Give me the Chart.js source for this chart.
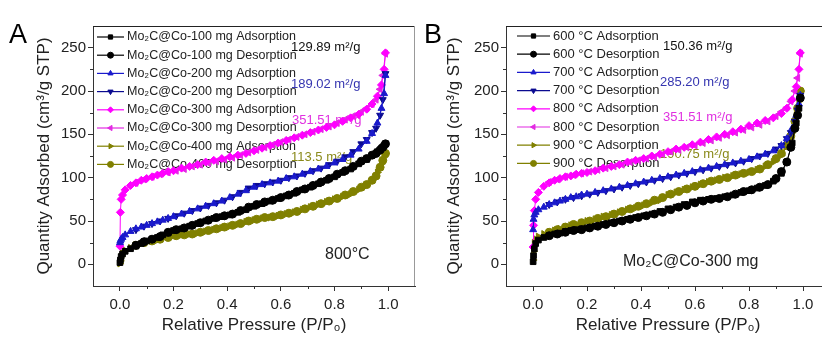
<!DOCTYPE html>
<html>
<head>
<meta charset="utf-8">
<script src="https://cdn.jsdelivr.net/npm/chart.js@4.4.1/dist/chart.umd.min.js"></script>
<style>
  body { margin: 0; background: #fff; width: 822px; height: 340px; overflow: hidden; position: relative; }
  #chartA { position: absolute; left: 0; top: 0; }
  #chartB { position: absolute; left: 410px; top: 0; }
</style>
</head>
<body>
<canvas id="chartA" width="420" height="340"></canvas>
<canvas id="chartB" width="425" height="340"></canvas>
<script>
// relative pressures, shared by both panels
const pAds = [0.0005, 0.002, 0.005, 0.01, 0.02, 0.04, 0.06, 0.08, 0.1, 0.12, 0.14, 0.16, 0.18, 0.2,
  0.23, 0.26, 0.29, 0.32, 0.35, 0.38, 0.41, 0.44, 0.47, 0.5, 0.53, 0.56, 0.59, 0.62, 0.65, 0.68,
  0.71, 0.74, 0.77, 0.8, 0.83, 0.86, 0.89, 0.92, 0.94, 0.96, 0.975, 0.985, 0.99];
const pDes = [0.99, 0.98, 0.97, 0.955, 0.94, 0.92, 0.9, 0.87, 0.84, 0.81, 0.78, 0.75, 0.72, 0.69,
  0.66, 0.63, 0.6, 0.57, 0.54, 0.51, 0.48, 0.45, 0.42, 0.39, 0.36, 0.33, 0.3, 0.27, 0.24, 0.21,
  0.18, 0.15, 0.12, 0.09, 0.06];

const xTicks = [0, 0.2, 0.4, 0.6, 0.8, 1.0];
const yTicks = [0, 50, 100, 150, 200, 250];

// panel A: precursor amount series
const labelsA = ["Mo₂C@Co-100 mg Adsorption", "Mo₂C@Co-100 mg Desorption",
  "Mo₂C@Co-200 mg Adsorption", "Mo₂C@Co-200 mg Desorption",
  "Mo₂C@Co-300 mg Adsorption", "Mo₂C@Co-300 mg Desorption",
  "Mo₂C@Co-400 mg Adsorption", "Mo₂C@Co-400 mg Desorption"];
const a100Ads = [2, 5, 9, 12, 15, 18, 21, 24, 27, 29, 31, 34, 36, 39, 41, 44, 47, 50, 53, 55, 57, 60, 63, 67,
  70, 73, 76, 79, 82, 86, 89, 93, 97, 101, 106, 110, 116, 121, 126, 130, 134, 137, 139];
const a100Des = [139, 135, 132, 128, 126, 122, 119, 113, 108, 104, 99, 95, 91, 87, 84, 80, 77, 74, 72, 69,
  66, 62, 58, 56, 54, 51, 48, 45, 42, 40, 37, 32, 29, 26, 22];
const a200Ads = [25, 27, 29, 31, 34, 38, 41, 43, 45, 47, 49, 51, 53, 55, 58, 61, 64, 67, 70, 73, 77, 81, 85, 89,
  92, 94, 96, 99, 101, 104, 107, 110, 113, 117, 121, 126, 133, 142, 151, 163, 180, 197, 218];
const a200Des = [220, 190, 172, 157, 152, 144, 139, 130, 124, 119, 115, 111, 108, 105, 102, 100, 97, 95, 93, 91,
  88, 83, 78, 74, 71, 68, 65, 62, 59, 56, 53, 50, 47, 44, 40];
const a300Ads = [21, 60, 75, 80, 86, 91, 94, 97, 99, 101, 103, 105, 107, 108, 111, 113, 115, 118, 120, 122, 124,
  126, 128, 131, 134, 137, 140, 143, 146, 149, 152, 155, 158, 161, 165, 169, 173, 179, 185, 194, 207, 225, 244];
const a300Des = [243, 218, 202, 190, 185, 180, 176, 171, 167, 163, 159, 156, 153, 150, 147, 144, 141, 138, 135, 132,
  129, 126, 123, 121, 119, 117, 115, 113, 110, 108, 106, 104, 101, 98, 94];
const a400Ads = [1, 4, 9, 13, 16, 19, 22, 24, 26, 27, 28, 30, 31, 33, 34, 35, 36, 38, 40, 42, 44, 46, 49, 51,
  53, 54, 56, 58, 60, 63, 66, 69, 72, 75, 78, 81, 86, 91, 97, 106, 116, 124, 128];
const a400Des = [128, 120, 112, 102, 97, 92, 89, 84, 80, 76, 73, 70, 67, 64, 61, 59, 57, 55, 54, 52,
  50, 47, 45, 43, 41, 39, 37, 35, 34, 33, 31, 29, 27, 25, 22];

// panel B: calcination temperature series
const labelsB = ["600 °C Adsorption", "600 °C Desorption", "700 °C Adsorption", "700 °C Desorption",
  "800 °C Adsorption", "800 °C Desorption", "900 °C Adsorption", "900 °C Desorption"];
const b600Ads = [3, 10, 18, 24, 28, 31, 33, 35, 36, 38, 39, 40, 41, 42, 44, 46, 48, 50, 52, 54, 56, 58, 61, 64,
  66, 69, 72, 74, 75, 76, 78, 80, 83, 85, 88, 91, 96, 105, 118, 140, 163, 180, 192];
const b600Des = [192, 172, 157, 135, 118, 107, 99, 92, 89, 86, 84, 81, 78, 76, 75, 73, 71, 68, 66, 63,
  60, 58, 56, 54, 52, 50, 48, 46, 44, 42, 40, 39, 37, 35, 33];
const b700Ads = [40, 52, 57, 60, 63, 66, 69, 71, 73, 75, 77, 78, 80, 81, 83, 85, 87, 89, 91, 93, 95, 97, 99, 101,
  103, 105, 107, 109, 111, 113, 115, 117, 119, 121, 124, 127, 131, 137, 145, 157, 172, 185, 195];
const b700Des = [195, 178, 165, 152, 145, 137, 133, 128, 125, 122, 119, 117, 115, 113, 111, 109, 107, 105, 103, 101,
  99, 97, 95, 93, 91, 89, 87, 85, 83, 81, 79, 77, 75, 72, 69];
const b800Ads = [20, 45, 62, 75, 83, 90, 94, 97, 99, 101, 102, 104, 105, 106, 108, 111, 113, 115, 118, 120, 122,
  125, 127, 130, 133, 135, 138, 141, 144, 147, 150, 153, 156, 160, 163, 166, 169, 174, 180, 190, 205, 225, 244];
const b800Des = [243, 215, 200, 188, 181, 176, 171, 165, 161, 158, 155, 152, 149, 146, 143, 140, 137, 135, 132, 130,
  127, 124, 122, 120, 118, 115, 113, 111, 109, 107, 105, 103, 101, 98, 95];
const b900Ads = [5, 15, 25, 29, 32, 35, 37, 39, 41, 43, 45, 46, 48, 50, 52, 55, 57, 60, 63, 65, 68, 71, 74, 80,
  83, 86, 89, 92, 95, 97, 100, 102, 104, 106, 109, 113, 118, 126, 136, 152, 172, 188, 200];
const b900Des = [200, 180, 165, 148, 137, 128, 122, 115, 110, 107, 105, 103, 100, 98, 96, 93, 90, 87, 84, 81,
  77, 74, 70, 67, 64, 61, 58, 55, 53, 50, 48, 46, 43, 40, 37];

// marker style per series slot (same order in both panels)
const styles = [
  { color: "#000000", shape: "rect", rot: 0 },
  { color: "#000000", shape: "circle", rot: 0 },
  { color: "#1a1acc", shape: "triangle", rot: 0 },
  { color: "#0a0a90", shape: "triangle", rot: 180 },
  { color: "#ff00ff", shape: "rectRot", rot: 0 },
  { color: "#e22ae2", shape: "triangle", rot: 270 },
  { color: "#808000", shape: "triangle", rot: 90 },
  { color: "#808000", shape: "circle", rot: 0 }
];

function makeSets(labels, series) {
  return series.map((vals, i) => {
    const px = i % 2 === 0 ? pAds : pDes;
    const st = styles[i];
    return {
      label: labels[i],
      data: vals.map((v, k) => ({ x: px[k], y: v })),
      borderColor: st.color,
      backgroundColor: st.color,
      pointStyle: st.shape,
      rotation: st.rot,
      pointRadius: 4,
      pointBorderWidth: 1,
      borderWidth: 1,
      tension: 0
    };
  });
}

const FONT = "'Liberation Sans', Arial, sans-serif";

const deco = {
  id: "deco",
  beforeDatasetsDraw(chart, args, opts) {
    const ctx = chart.ctx;
    const ca = chart.chartArea;
    ctx.save();
    // frame top/right
    ctx.lineWidth = 1;
    ctx.strokeStyle = "#222";
    ctx.beginPath();
    ctx.moveTo(ca.left, ca.top + 0.5);
    ctx.lineTo(ca.right, ca.top + 0.5);
    ctx.stroke();
    ctx.strokeStyle = "#999";
    ctx.beginPath();
    ctx.moveTo(ca.right - 0.5, ca.top);
    ctx.lineTo(ca.right - 0.5, ca.bottom);
    ctx.stroke();

    // minor ticks
    const xs = chart.scales.x, ys = chart.scales.y;
    ctx.strokeStyle = "#333";
    [0.1, 0.3, 0.5, 0.7, 0.9].forEach(v => {
      const x = Math.round(xs.getPixelForValue(v)) + 0.5;
      ctx.beginPath(); ctx.moveTo(x, ca.bottom); ctx.lineTo(x, ca.bottom + 3); ctx.stroke();
    });
    [25, 75, 125, 175, 225].forEach(v => {
      const y = Math.round(ys.getPixelForValue(v)) + 0.5;
      ctx.beginPath(); ctx.moveTo(ca.left, y); ctx.lineTo(ca.left - 3, y); ctx.stroke();
    });

    // legend: line + marker + text
    const L = opts.legend;
    chart.data.datasets.forEach((ds, i) => {
      const y = L.y0 + i * L.dy;
      ctx.strokeStyle = ds.borderColor;
      ctx.fillStyle = ds.backgroundColor;
      ctx.lineWidth = 1.2;
      ctx.beginPath(); ctx.moveTo(L.x0, y); ctx.lineTo(L.x1, y); ctx.stroke();
      ctx.lineWidth = 1;
      Chart.helpers.drawPoint(ctx, { pointStyle: ds.pointStyle, rotation: ds.rotation, radius: 3, borderWidth: 1 },
        (L.x0 + L.x1) / 2, y);
      ctx.fillStyle = "#222";
      ctx.font = L.font + "px " + FONT;
      ctx.textBaseline = "middle";
      ctx.textAlign = "left";
      ctx.fillText(ds.label, L.tx, y);
    });

    // surface area notes
    ctx.font = "13px " + FONT;
    ctx.textBaseline = "middle";
    opts.notes.forEach(n => {
      ctx.fillStyle = n.c;
      ctx.fillText(n.t, n.x, n.y);
    });

    // inset label and panel letter
    ctx.fillStyle = "#222";
    ctx.font = "16px " + FONT;
    ctx.fillText(opts.inset.t, opts.inset.x, opts.inset.y);
    ctx.fillStyle = "#000";
    ctx.font = "27px " + FONT;
    ctx.textBaseline = "alphabetic";
    ctx.fillText(opts.letter.t, opts.letter.x, opts.letter.y);
    ctx.restore();
  }
};

function makeChart(id, labels, series, yWidth, padRight, decoOpts) {
  return new Chart(document.getElementById(id), {
    type: "line",
    data: { datasets: makeSets(labels, series) },
    plugins: [deco],
    options: {
      responsive: false,
      animation: false,
      devicePixelRatio: 1,
      layout: { padding: { left: 0, right: padRight, top: 26, bottom: 0 } },
      plugins: {
        legend: { display: false },
        tooltip: { enabled: false },
        deco: decoOpts
      },
      scales: {
        x: {
          type: "linear",
          min: -0.1,
          max: 1.1,
          afterBuildTicks: s => { s.ticks = xTicks.map(v => ({ value: v })); },
          afterFit: s => { s.height = 54; },
          ticks: {
            callback: v => v.toFixed(1),
            font: { size: 15, family: FONT },
            color: "#222",
            padding: 5,
            maxRotation: 0
          },
          grid: { drawOnChartArea: false, tickLength: 5, color: "#333" },
          border: { color: "#333" },
          title: {
            display: true,
            text: "Relative Pressure (P/P₀)",
            font: { size: 17, family: FONT },
            color: "#222",
            padding: { top: 0, bottom: 4 }
          }
        },
        y: {
          min: -25,
          max: 275,
          afterBuildTicks: s => { s.ticks = yTicks.map(v => ({ value: v })); },
          afterFit: s => { s.width = yWidth; },
          ticks: {
            font: { size: 15, family: FONT },
            color: "#222",
            padding: 2
          },
          grid: { drawOnChartArea: false, tickLength: 5, color: "#333" },
          border: { color: "#333" },
          title: {
            display: true,
            text: "Quantity Adsorbed (cm³/g STP)",
            font: { size: 17, family: FONT },
            color: "#222",
            padding: { top: 34, bottom: 0 }
          }
        }
      }
    }
  });
}

makeChart("chartA", labelsA,
  [a100Ads, a100Des, a200Ads, a200Des, a300Ads, a300Des, a400Ads, a400Des], 93, 3, {
    legend: { x0: 97, x1: 124, tx: 127, y0: 37, dy: 18.2, font: 12.5 },
    notes: [
      { t: "129.89 m²/g", x: 291, y: 47, c: "#111" },
      { t: "189.02 m²/g", x: 291, y: 84, c: "#3535b0" },
      { t: "351.51 m²/g", x: 292, y: 120, c: "#e030e0" },
      { t: "113.5 m²/g", x: 291, y: 157, c: "#8a8a1a" }
    ],
    inset: { t: "800°C", x: 325, y: 255 },
    letter: { t: "A", x: 9, y: 43 }
  });

makeChart("chartB", labelsB,
  [b600Ads, b600Des, b700Ads, b700Des, b800Ads, b800Des, b900Ads, b900Des], 96, 5, {
    legend: { x0: 107, x1: 140, tx: 143, y0: 36, dy: 18.2, font: 13 },
    notes: [
      { t: "150.36 m²/g", x: 253, y: 46, c: "#111" },
      { t: "285.20 m²/g", x: 250, y: 82, c: "#3535b0" },
      { t: "351.51 m²/g", x: 253, y: 117, c: "#e030e0" },
      { t: "190.75 m²/g", x: 250, y: 154, c: "#8a8a1a" }
    ],
    inset: { t: "Mo₂C@Co-300 mg", x: 213, y: 262 },
    letter: { t: "B", x: 14, y: 43 }
  });
</script>
</body>
</html>
